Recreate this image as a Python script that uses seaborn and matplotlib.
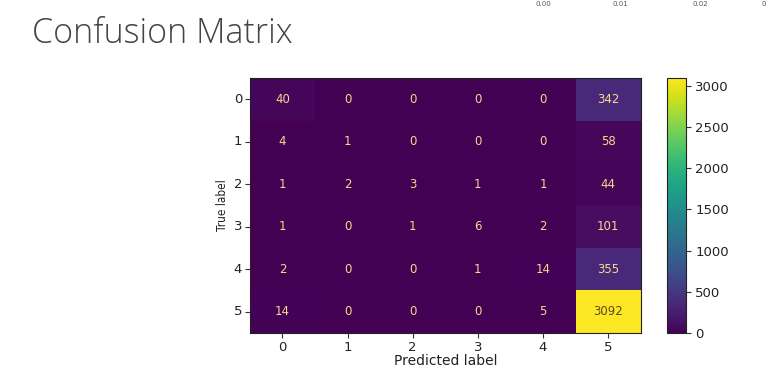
import numpy as np
import pandas as pd
import seaborn as sns
import matplotlib
matplotlib.use("Agg")
import matplotlib.pyplot as plt

labels = ["0", "1", "2", "3", "4", "5"]
row0 = [40, 0, 0, 0, 0, 342]
row1 = [4, 1, 0, 0, 0, 58]
row2 = [1, 2, 3, 1, 1, 44]
row3 = [1, 0, 1, 6, 2, 101]
row4 = [2, 0, 0, 1, 14, 355]
row5 = [14, 0, 0, 0, 5, 3092]
cbar_ticks = [0, 500, 1000, 1500, 2000, 2500, 3000]
top_cut_labels = ["0.00", "0.01", "0.02", "0"]

cm = pd.DataFrame([row0, row1, row2, row3, row4, row5], index=labels, columns=labels)

sns.set_theme(style="white")
plt.rcParams["font.family"] = ["DejaVu Sans"]

fig = plt.figure(figsize=(7.71, 3.72), dpi=100)
ax = fig.add_axes([0.324, 0.105, 0.507, 0.685])
cax = fig.add_axes([0.865, 0.105, 0.025, 0.685])

cmap = plt.get_cmap("viridis")
vmax = cm.values.max()
sns.heatmap(cm, ax=ax, cbar_ax=cax, cmap="viridis", vmin=0, vmax=vmax,
            annot=False, linewidths=0, cbar_kws={"ticks": cbar_ticks})

thresh = vmax / 2.0
for i in range(cm.shape[0]):
    for j in range(cm.shape[1]):
        v = cm.values[i, j]
        color = "#5a4a1c" if v > thresh else "#f6d98a"
        ax.text(j + 0.5, i + 0.5, str(v), ha="center", va="center",
                fontsize=8.5, color=color)

for s in ax.spines.values():
    s.set_visible(True)
    s.set_color("#222222")
    s.set_linewidth(0.8)

ax.tick_params(axis="both", which="both", length=3.5, width=0.8, color="#333333",
               labelsize=9.5, labelcolor="#222222", left=True, bottom=True, pad=2)
ax.set_yticklabels(labels, rotation=0)
ax.set_xticklabels(labels, rotation=0)
ax.set_xlabel("Predicted label", fontsize=10, color="#222222", labelpad=0)
ax.set_ylabel("True label", fontsize=8.5, color="#222222", labelpad=3,
              family=["DejaVu Sans Condensed", "DejaVu Sans"], fontstretch="condensed")

cb = ax.collections[0].colorbar
cb.outline.set_visible(True)
cb.outline.set_edgecolor("#222222")
cb.outline.set_linewidth(0.8)
cax.tick_params(length=3.5, width=0.8, color="#333333", labelsize=9.5,
                labelcolor="#222222", right=True, pad=3)

fig.text(0.041, 0.91, "Confusion Matrix", fontsize=24.5, color="#444444",
         family=["Open Sans", "DejaVu Sans"], fontweight="light", va="center", ha="left")

for x, t in zip([0.705, 0.805, 0.908, 0.99], top_cut_labels):
    fig.text(x, 0.997, t, fontsize=5, color="#555555", ha="center", va="top")

fig.savefig("out.png", dpi=100)
